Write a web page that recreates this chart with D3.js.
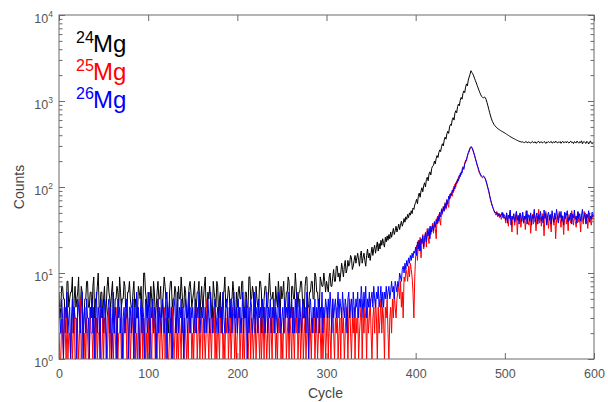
<!DOCTYPE html>
<html><head><meta charset="utf-8">
<script src="https://cdn.jsdelivr.net/npm/d3@7"></script>
<style>
body{margin:0;background:#fff}
text{font-family:"Liberation Sans",Arial,Helvetica,sans-serif}
</style>
</head><body>
<svg id="chart" width="608" height="402"></svg>
<script>
// ---- data ----
const cycleStep = 1; // one value per cycle, cycles 0..600
const xTicks = [0, 100, 200, 300, 400, 500, 600];
const yTickExponents = [0, 1, 2, 3, 4];
const isotopes = ["24", "25", "26"];
const isotopeColors = ["#000000", "#ff0000", "#0000ff"];

const mg24 = [
  6,3,4,7,7,5,5,2,3,8, 8,4,5,6,6,9,2,5,7,4, 5,6,9,3,4,7,6,2,3,5, 5,8,8,4,4,6,6,3,7,9, 3,5,5,7,10,4,4,6,6,3,
  5,7,3,4,7,9,6,5,4,6, 8,3,2,5,5,7,6,4,9,6, 4,5,5,8,7,3,3,6,6,8, 5,4,4,6,8,4,5,3,3,7, 6,5,7,4,4,10,10,6,5,3,
  6,5,4,7,5,3,8,6,3,4, 6,8,5,5,7,3,4,6,9,7, 5,6,3,2,6,8,8,4,5,5, 7,6,2,4,7,5,5,9,6,4, 4,7,6,3,3,5,7,8,6,4,
  5,6,8,3,4,6,6,8,3,5, 7,4,5,7,9,4,4,6,5,7, 5,3,3,8,6,5,4,8,7,3, 5,6,2,4,6,6,9,4,4,5, 7,6,3,5,5,8,6,3,3,6,
  4,6,7,5,5,8,8,3,3,6, 6,4,4,9,9,5,5,7,6,3, 3,7,5,4,4,8,8,6,2,3, 5,7,7,4,4,6,10,6,5,5, 6,3,3,7,5,4,8,6,3,7,
  5,6,8,4,4,6,6,9,8,3, 3,7,7,5,5,10,7,4,4,6, 6,8,8,5,3,3,7,9,9,4, 4,6,6,8,8,5,5,10,9,6, 6,4,4,9,8,7,7,10,8,6,
  8,7,6,9,10,7,7,9,11,8, 8,12,12,9,10,8,10,13,11,9, 12,14,10,11,14,12,13,16,15,11, 12,14,16,13,15,17,14,12,16,18, 13,15,17,14,12,16,19,15,17,14,
  17,20,16,19,21,17,20,23,18,22, 19,24,21,25,22,20,26,23,27,24, 28,25,30,26,29,33,28,31,35,30, 33,37,32,36,40,35,38,43,39,45, 42,48,44,50,47,53,49,57,55,62,
  66,72,64,78,85,76,90,98,88,104, 112,100,122,130,118,142,150,138,165,175, 178,200,186,215,232,220,252,270,258,295, 318,300,350,380,360,415,445,420,500,535, 520,605,640,600,720,770,730,860,920,880,
  1020,1100,1050,1220,1310,1250,1450,1580,1500,1750, 1900,2050,2250,2150,2080,1960,1840,1720,1620,1520, 1420,1330,1250,1180,1130,1100,1090,1110,1100,1040, 960,880,800,730,670,620,580,555,530,515, 500,488,478,470,462,455,448,442,436,430,
  424,418,410,405,398,392,386,380,376,370, 365,362,356,352,348,344,340,338,335,332, 336,330,328,334,338,326,331,335,328,324, 333,339,327,330,336,322,329,334,340,326, 331,336,325,329,338,332,321,334,330,337,
  328,333,339,324,330,336,327,342,331,325, 334,329,338,322,333,340,327,331,336,326, 339,330,324,335,341,328,333,320,337,330, 326,342,331,323,336,329,344,318,333,338, 327,321,340,331,316,335,342,324,318,330,
  322
];

const mg25 = [
  2,1,1,3,2,1,4,2,1,3, 1,2,2,1,3,1,2,4,1,1, 3,2,1,2,5,1,2,3,1,2, 1,3,2,1,1,4,2,2,1,3, 2,1,3,1,2,2,4,1,1,3,
  1,3,2,2,1,2,4,1,3,1, 2,1,3,2,1,4,1,2,2,3, 1,2,1,3,2,4,1,1,2,3, 1,2,4,2,1,3,1,2,1,3, 2,1,2,4,1,3,2,1,2,1,
  3,1,2,2,1,4,2,3,1,2, 1,5,2,1,3,2,1,2,4,1, 3,2,1,1,2,3,1,4,2,1, 2,3,1,2,1,3,2,1,4,2, 1,3,2,1,2,1,4,2,3,1,
  2,1,3,2,4,1,2,3,1,2, 4,1,3,2,1,2,5,2,1,3, 2,1,3,2,4,1,2,1,3,2, 1,4,2,3,1,2,1,3,2,4, 1,2,3,1,2,4,3,1,2,1,
  2,3,4,1,2,3,1,2,1,3, 5,2,1,2,4,1,3,2,1,2, 3,1,2,4,2,1,3,1,2,3, 1,4,2,1,2,3,1,3,2,1, 4,2,3,1,2,1,3,2,4,1,
  2,1,3,2,4,1,2,3,1,3, 2,1,4,2,1,3,2,5,1,2, 3,1,2,4,1,2,3,1,2,4, 1,3,2,1,3,2,4,1,2,3, 1,2,4,2,1,3,1,2,3,1,
  2,4,1,3,2,1,3,5,2,1, 3,2,4,1,2,3,1,4,2,3, 1,2,4,3,1,3,5,2,1,3, 2,4,1,3,2,4,1,2,3,5, 1,3,2,4,3,1,4,2,3,5,
  2,1,3,4,2,5,3,1,4,2, 3,5,2,4,3,1,4,3,5,2, 1,3,4,2,5,3,6,4,3,5, 6,7,5,8,4,6,3,9,8,11, 10,8,12,9,13,11,9,6,3,9,
  16,21,14,24,18,26,15,23,28,19, 24,30,20,33,26,22,35,28,32,38, 29,40,33,25,44,38,48,42,36,56, 48,60,52,66,55,72,62,58,82,74, 86,78,96,90,108,100,118,112,132,125,
  145,138,160,172,165,190,205,200,232,248, 255,278,292,286,270,250,232,212,195,178, 165,150,142,135,130,128,132,130,124,115, 106,96,88,78,70,64,60,56,52,50, 47,52,45,49,44,48,42,46,50,43,
  45,38,50,42,35,47,52,40,30,44, 48,36,42,52,28,45,40,49,34,43, 50,38,46,32,44,53,40,36,47,29, 42,48,37,51,43,31,46,40,55,38, 44,35,49,41,27,46,52,38,43,33,
  47,40,30,50,44,36,48,25,42,46, 39,52,43,34,47,41,28,45,50,37, 44,31,48,42,38,53,45,36,49,40, 34,46,51,39,43,30,47,41,37,52, 44,38,48,33,45,50,40,36,47,42,
  44
];

const mg26 = [
  4,3,2,5,3,1,4,4,3,6, 2,3,4,1,3,5,2,4,3,3, 1,5,4,3,2,4,6,1,3,4, 2,5,3,3,1,4,3,5,2,4, 1,3,6,2,4,3,1,5,3,4,
  2,5,4,1,3,4,5,2,4,1, 3,6,2,4,3,1,5,3,4,2, 5,1,3,4,2,3,5,3,1,4, 4,2,3,5,1,4,2,6,3,4, 1,3,5,2,4,3,1,5,4,2,
  3,6,1,4,3,5,2,4,3,1, 3,5,2,4,3,2,5,4,2,3, 6,1,4,3,5,2,4,1,3,5, 4,2,3,6,2,4,3,5,2,4, 1,3,5,4,2,3,6,2,4,3,
  4,2,3,5,2,4,3,6,2,3, 4,3,5,2,4,2,3,5,3,2, 6,4,2,3,4,5,2,3,4,2, 5,3,4,2,6,3,2,4,5,3, 2,4,3,5,2,4,6,3,2,4,
  2,5,3,4,2,3,6,2,4,3, 5,1,4,2,3,5,4,2,3,6, 2,4,3,2,5,3,4,2,5,3, 4,2,3,6,2,4,3,5,2,4, 3,5,2,4,3,2,6,3,4,2,
  3,4,2,5,3,4,3,6,2,4, 3,5,2,4,2,5,3,6,4,2, 5,3,2,4,5,3,4,2,6,3, 1,4,5,3,2,4,3,5,2,4, 3,5,2,4,3,6,2,4,3,5,
  4,3,5,3,6,4,2,5,3,4, 5,3,4,6,3,5,4,3,6,4, 3,5,4,2,5,6,3,4,5,3, 6,4,3,5,4,6,3,5,4,7, 5,3,6,4,7,3,5,4,6,4,
  5,6,4,7,5,4,6,5,7,4, 5,7,4,6,4,6,5,7,5,6, 7,5,6,8,6,7,5,8,7,6, 8,7,10,9,8,11,12,10,13,11, 14,12,15,13,16,14,17,15,18,17,
  20,16,23,19,24,18,25,22,27,20, 26,29,23,31,27,33,25,35,30,36, 31,39,34,42,37,46,40,51,45,55, 50,58,53,64,57,70,63,78,72,84, 80,92,86,102,95,112,108,124,118,138,
  132,150,145,168,160,185,195,212,228,250, 268,285,295,290,275,255,235,215,198,180, 168,155,146,138,134,131,134,132,126,118, 108,98,90,80,72,66,60,56,53,50, 51,48,50,46,49,45,47,51,44,48,
  45,41,50,38,47,43,54,36,46,42, 49,39,45,52,41,47,37,50,44,40, 51,38,46,42,53,37,48,44,40,50, 36,47,43,55,39,45,50,37,48,42, 52,40,46,38,54,43,49,36,47,51,
  41,48,37,53,44,39,50,42,55,46, 38,49,44,52,40,46,36,51,43,47, 53,39,45,41,50,37,48,44,54,42, 46,38,52,43,49,40,47,55,41,45, 50,37,48,44,53,39,46,42,51,45,
  48
];

// ---- drawing ----
const svg = d3.select("#chart");
const mLeft = 59, mRight = 594, mTop = 15, mBottom = 359;
const axisColor = "#6a6a6a", textColor = "#555";

const x = d3.scaleLinear().domain([0, 600]).range([mLeft, mRight]);
const y = d3.scaleLog().domain([1, 1e4]).range([mBottom, mTop]);

svg.append("defs").append("clipPath").attr("id", "clip")
  .append("rect").attr("x", mLeft).attr("y", mTop - 1)
  .attr("width", mRight - mLeft).attr("height", mBottom - mTop + 2);

const line = d3.line()
  .x((d, i) => x(i * cycleStep))
  .y(d => y(d));

const plot = svg.append("g").attr("clip-path", "url(#clip)");
[mg24, mg25, mg26].forEach((series, k) => {
  plot.append("path")
    .datum(series)
    .attr("fill", "none")
    .attr("stroke", isotopeColors[k])
    .attr("stroke-width", 1)
    .attr("stroke-linejoin", "round")
    .attr("d", line);
});

// axes
const majorY = yTickExponents.map(e => Math.pow(10, e));
const minorY = y.ticks().filter(v => !majorY.some(m => Math.abs(m - v) < 1e-9));

function styleAxis(g) {
  g.select(".domain").remove();
  g.selectAll(".tick line").attr("stroke", axisColor);
  g.selectAll(".tick text").attr("fill", textColor).attr("font-size", "12.5px")
    .attr("font-family", '"Liberation Sans", Arial, sans-serif');
}

svg.append("g").attr("transform", `translate(0,${mBottom})`)
  .call(d3.axisBottom(x).tickValues(xTicks).tickFormat(d3.format("d"))
    .tickSizeInner(-6).tickSizeOuter(0).tickPadding(10))
  .call(styleAxis);
svg.append("g").attr("transform", `translate(0,${mTop})`)
  .call(d3.axisTop(x).tickValues(xTicks).tickFormat("")
    .tickSizeInner(-6).tickSizeOuter(0))
  .call(styleAxis);

svg.append("g").attr("transform", `translate(${mLeft},0)`)
  .call(d3.axisLeft(y).tickValues(majorY).tickFormat("").tickSizeInner(-6).tickSizeOuter(0))
  .call(styleAxis);
svg.append("g").attr("transform", `translate(${mLeft},0)`)
  .call(d3.axisLeft(y).tickValues(minorY).tickFormat("").tickSizeInner(-3.5).tickSizeOuter(0))
  .call(styleAxis);
svg.append("g").attr("transform", `translate(${mRight},0)`)
  .call(d3.axisRight(y).tickValues(majorY).tickFormat("").tickSizeInner(-6).tickSizeOuter(0))
  .call(styleAxis);
svg.append("g").attr("transform", `translate(${mRight},0)`)
  .call(d3.axisRight(y).tickValues(minorY).tickFormat("").tickSizeInner(-3.5).tickSizeOuter(0))
  .call(styleAxis);

// box
svg.append("rect").attr("x", mLeft).attr("y", mTop)
  .attr("width", mRight - mLeft).attr("height", mBottom - mTop)
  .attr("fill", "none").attr("stroke", axisColor).attr("stroke-width", 1);

// y tick labels with superscripts
yTickExponents.forEach(e => {
  const t = svg.append("text")
    .attr("x", mLeft - 6).attr("y", y(Math.pow(10, e)) + 8)
    .attr("text-anchor", "end").attr("fill", textColor).attr("font-size", "12.5px");
  t.append("tspan").text("10");
  t.append("tspan").attr("dy", -6.5).attr("font-size", "8.5px").text(String(e));
});

// axis titles
svg.append("text").attr("x", (mLeft + mRight) / 2 - 1).attr("y", 398)
  .attr("text-anchor", "middle").attr("fill", "#444").attr("font-size", "14px").text("Cycle");
svg.append("text").attr("transform", `translate(24,${(mTop + mBottom) / 2}) rotate(-90)`)
  .attr("text-anchor", "middle").attr("fill", "#444").attr("font-size", "14px").text("Counts");

// legend
isotopes.forEach((iso, k) => {
  const base = 52 + k * 28;
  svg.append("text").attr("x", 76).attr("y", base - 9)
    .attr("fill", isotopeColors[k]).attr("font-size", "16px").text(iso);
  svg.append("text").attr("x", 93).attr("y", base)
    .attr("fill", isotopeColors[k]).attr("font-size", "24px").text("Mg");
});
</script>
</body></html>
